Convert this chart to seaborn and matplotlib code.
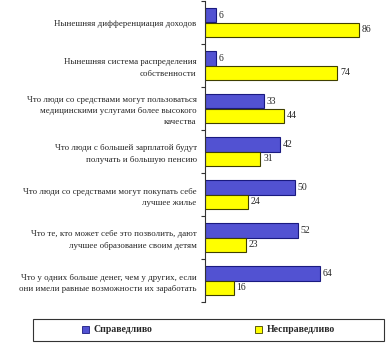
import matplotlib
matplotlib.use("Agg")
import matplotlib.pyplot as plt
import seaborn as sns
import pandas as pd
import numpy as np

categories = [
    "Нынешняя дифференциация доходов",
    "Нынешняя система распределения\nсобственности",
    "Что люди со средствами могут пользоваться\nмедицинскими услугами более высокого\nкачества",
    "Что люди с большей зарплатой будут\nполучать и большую пенсию",
    "Что люди со средствами могут покупать себе\nлучшее жилье",
    "Что те, кто может себе это позволить, дают\nлучшее образование своим детям",
    "Что у одних больше денег, чем у других, если\nони имели равные возможности их заработать",
]
fair = [6, 6, 33, 42, 50, 52, 64]
unfair = [86, 74, 44, 31, 24, 23, 16]
series = ["Справедливо", "Несправедливо"]

df = pd.DataFrame({
    "cat": categories * 2,
    "val": fair + unfair,
    "series": [series[0]] * len(categories) + [series[1]] * len(categories),
})

sns.set_theme(style="white")
plt.rcParams["font.family"] = ["Liberation Serif", "DejaVu Serif"]

fig = plt.figure(figsize=(3.89, 3.48), dpi=100)
ax = fig.add_axes([205 / 389, 1 - 302 / 348, 179 / 389, 301 / 348])

palette = {series[0]: "#5252D2", series[1]: "#FFFF00"}
sns.barplot(data=df, y="cat", x="val", hue="series", palette=palette,
            orient="h", width=0.68, ax=ax, legend=False, saturation=1)

edges = ["#1A1A80", "#404000"]
for cont, ec in zip(ax.containers, edges):
    for p in cont:
        p.set_edgecolor(ec)
        p.set_linewidth(0.8)
    ax.bar_label(cont, fmt="%d", padding=2, fontsize=7)

ax.set_xlim(0, 100)
ax.set_ylim(len(categories) - 0.5, -0.5)
ax.set_xlabel("")
ax.set_ylabel("")
ax.set_xticks([])
for s in ["top", "right", "bottom"]:
    ax.spines[s].set_visible(False)
ax.spines["left"].set_color("#333333")
ax.spines["left"].set_linewidth(0.8)
ax.set_yticks(np.arange(len(categories)))
ax.set_yticklabels(categories, fontsize=6.4, linespacing=1.55)
ax.set_yticks(np.arange(len(categories) + 1) - 0.5, minor=True)
ax.tick_params(axis="y", which="major", length=0, pad=6)
ax.tick_params(axis="y", which="minor", length=3, width=0.8, color="#333333", left=True)

# legend frame
frame = plt.Rectangle((33 / 389, 1 - 341 / 348), 351 / 389, 22 / 348,
                      transform=fig.transFigure, facecolor="white",
                      edgecolor="#333333", linewidth=0.8)
fig.add_artist(frame)

handles = [plt.Rectangle((0, 0), 1, 1, facecolor=palette[s], edgecolor=e, linewidth=0.6)
           for s, e in zip(series, edges)]
leg = fig.legend(handles, series, loc="center", ncol=2,
                 bbox_to_anchor=(208.5 / 389, 1 - 330 / 348),
                 frameon=False, fontsize=7,
                 handlelength=0.7, handleheight=0.7, handletextpad=0.5,
                 columnspacing=10.5, borderpad=0, borderaxespad=0)
for t in leg.get_texts():
    t.set_fontweight("bold")

fig.savefig("out.png", dpi=100)
